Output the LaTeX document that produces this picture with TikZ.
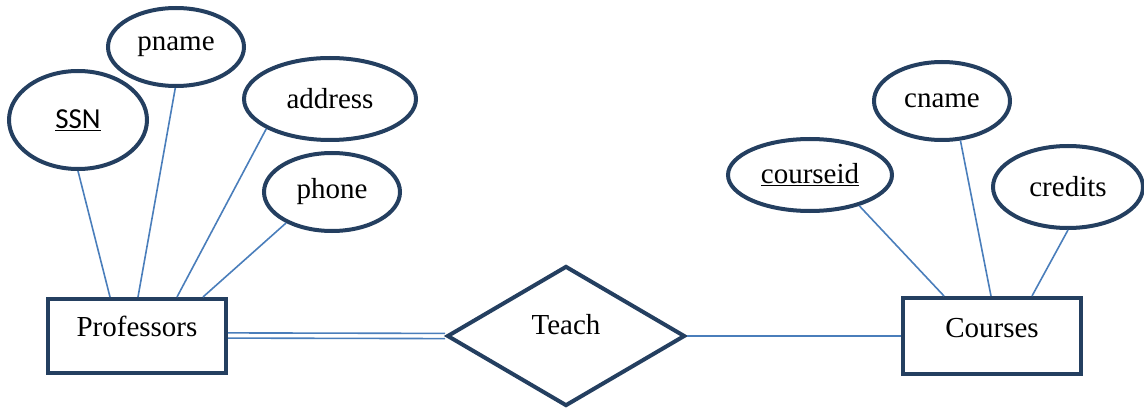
\documentclass[tikz,border=0pt]{standalone}
\usepackage{fontspec}
\setmainfont{Liberation Serif}
\newfontfamily\calib{Carlito}
\usetikzlibrary{shapes.geometric}
\definecolor{erdark}{HTML}{243F60}
\definecolor{erline}{HTML}{4A7EBB}
\tikzset{
  attr/.style={ellipse, draw=erdark, line width=4pt, fill=white, inner sep=0pt, font=\fontsize{29}{31}\selectfont},
  entity/.style={rectangle, draw=erdark, line width=4pt, fill=white, inner sep=0pt, text height=0pt, text depth=0pt, font=\fontsize{29}{31}\selectfont},
  rel/.style={diamond, draw=erdark, line width=4pt, fill=white, inner sep=0pt, text height=0pt, text depth=0pt, font=\fontsize{29}{31}\selectfont},
  conn/.style={draw=erline, line width=1.6pt},
}
\begin{document}
\begin{tikzpicture}[x=1pt,y=-1pt]
\useasboundingbox (0,0) rectangle (1144,409);
% entities and relationship
\node[entity, minimum width=178pt, minimum height=74pt] (prof) at (137,335.5) {\raisebox{-1pt}{Professors}};
\node[entity, minimum width=178pt, minimum height=76pt] (cour) at (992,336) {\raisebox{-1pt}{Courses}};
\node[rel, minimum width=238pt, minimum height=140pt] (teach) at (566,336) {\raisebox{2pt}{Teach}};
% attribute connector end points
\coordinate (p1) at (110,297);
\coordinate (p2) at (138,297);
\coordinate (p3) at (177,297);
\coordinate (p4) at (203,297);
\coordinate (c1) at (944,296);
\coordinate (c2) at (991,296);
\coordinate (c3) at (1032,296);
% attributes
\node[attr, minimum width=138pt, minimum height=98pt] (ssn) at (78,120) {\calib\underline{SSN}};
\node[attr, minimum width=136pt, minimum height=78pt] (pname) at (176,47) {pname};
\node[attr, minimum width=172pt, minimum height=82pt] (addr) at (330,99) {address};
\node[attr, minimum width=136pt, minimum height=78pt] (phone) at (332,192) {phone};
\node[attr, minimum width=164pt, minimum height=72pt] (cid) at (810,175) {\underline{courseid}};
\node[attr, minimum width=136pt, minimum height=78pt] (cname) at (942,101) {cname};
\node[attr, minimum width=150pt, minimum height=82pt] (cred) at (1068,187) {credits};
% connectors
\draw[conn] (ssn.south) -- (p1);
\draw[conn] (pname.-91) -- (p2);
\draw[conn] (addr.-155) -- (p3);
\draw[conn] (phone.-146) -- (p4);
\draw[conn] (cid.-32) -- (c1);
\draw[conn] (cname.-65) -- (c2);
\draw[conn] (cred.-90) -- (c3);
\draw[conn] ([yshift=2.6pt]prof.east) -- ([yshift=2.6pt]teach.west);
\draw[conn] ([yshift=-2.6pt]prof.east) -- ([yshift=-2.6pt]teach.west);
\draw[conn] (teach.east) -- (cour.west);
\end{tikzpicture}
\end{document}
